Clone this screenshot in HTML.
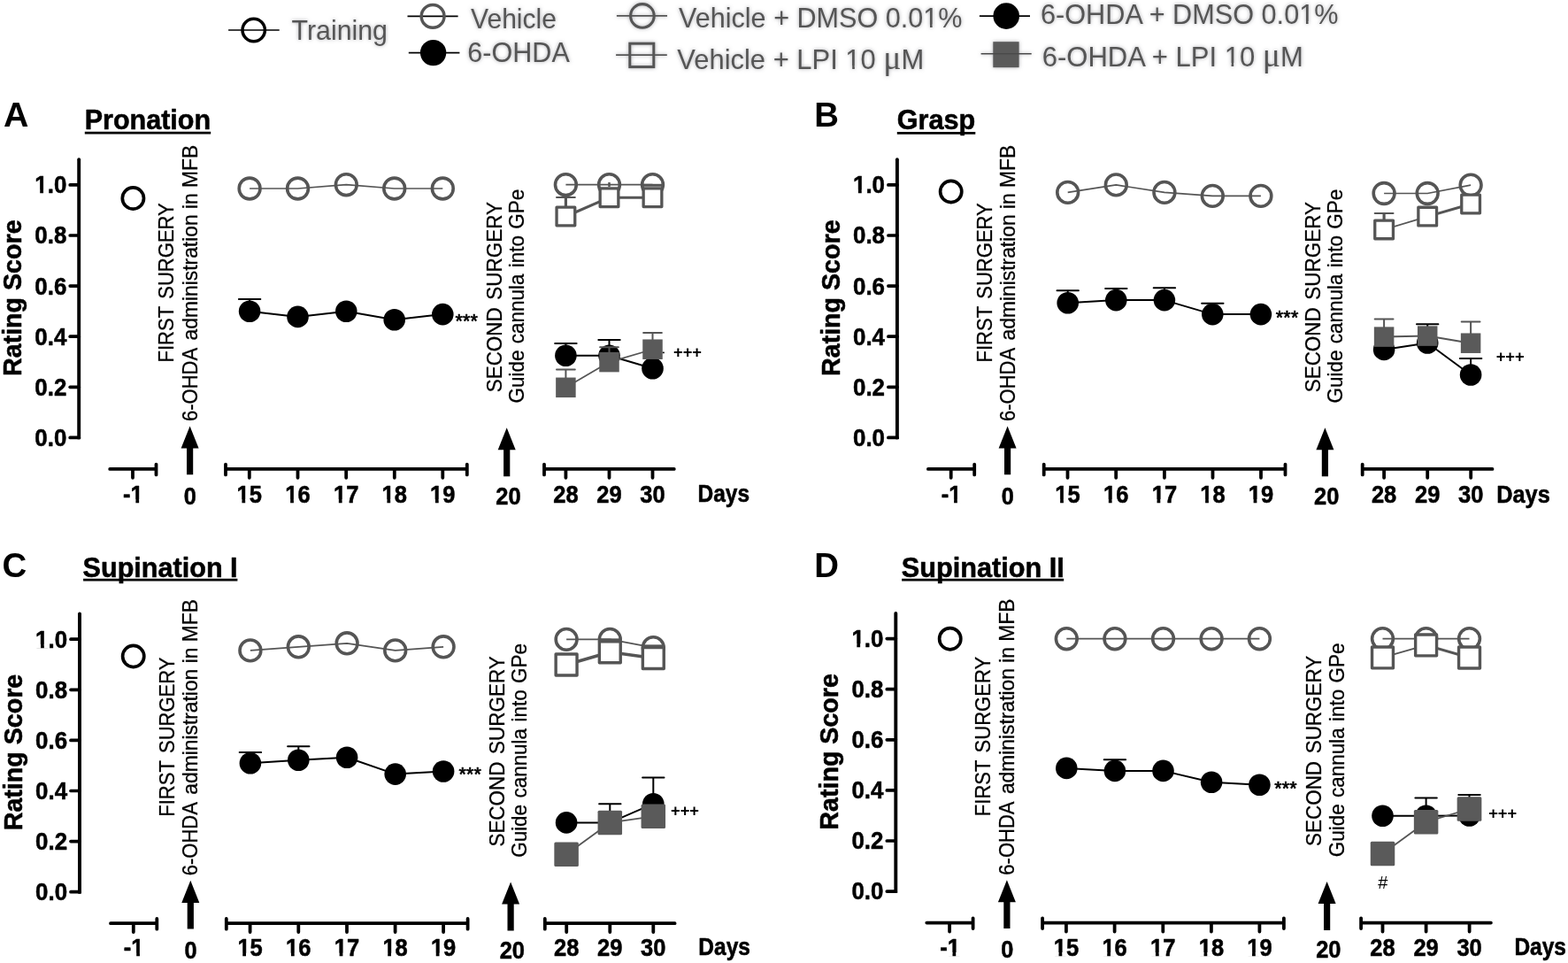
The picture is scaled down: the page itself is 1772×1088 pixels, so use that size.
<!DOCTYPE html>
<html lang="en"><head><meta charset="utf-8"><title>Figure</title>
<style>html,body{margin:0;padding:0;background:#fff}body{width:1772px;height:1088px;overflow:hidden}svg{display:block}text{font-family:"Liberation Sans", sans-serif;fill:#000}.hb{stroke:#000;stroke-width:0.55px;stroke-linejoin:round}.hr{stroke:#000;stroke-width:0.3px;stroke-linejoin:round}</style>
</head><body>
<svg width="1772" height="1088" viewBox="0 0 1772 1088">
<defs><filter id="glow" x="-10%" y="-30%" width="120%" height="160%"><feGaussianBlur in="SourceAlpha" stdDeviation="2.3" result="b"/><feFlood flood-color="#85858c" flood-opacity="0.7"/><feComposite in2="b" operator="in" result="s"/><feMerge><feMergeNode in="s"/><feMergeNode in="SourceGraphic"/></feMerge></filter></defs>
<rect width="1772" height="1088" fill="#fff"/>
<g id="legend">
<path d="M258.1 34H315.7" stroke="#000" stroke-width="1.6"/>
<circle cx="286.7" cy="34" r="12.7" fill="none" stroke="#000" stroke-width="3.5"/>
<path d="M460.5 18.4H517.6" stroke="#000" stroke-width="1.6"/>
<circle cx="489.1" cy="18.4" r="12.9" fill="none" stroke="#555555" stroke-width="3.5"/>
<path d="M461.8 59.6H519.4" stroke="#000" stroke-width="1.6"/>
<circle cx="489.6" cy="59.6" r="14.7" fill="#000"/>
<g filter="url(#glow)">
<path d="M696.9 17.9H754" stroke="#555555" stroke-width="1.6"/>
<circle cx="725.9" cy="17.9" r="13.3" fill="none" stroke="#555555" stroke-width="3.1"/>
<path d="M696.1 62.1H753.8" stroke="#555555" stroke-width="1.6"/>
<rect x="711.8" y="49.2" width="27" height="26.4" fill="none" stroke="#555555" stroke-width="3"/>
</g>
<path d="M1106.9 18.1H1164" stroke="#000" stroke-width="1.6"/>
<circle cx="1137.2" cy="18.1" r="14.8" fill="#000"/>
<g filter="url(#glow)">
<rect x="1122.3" y="47.2" width="29.3" height="29" fill="#5a5a5a"/>
<path d="M1108.6 60.8H1165.7" stroke="#4a4a4a" stroke-width="1.6"/>
</g>
<g filter="url(#glow)" font-size="30.5" style="fill:#555555">
<text x="329.5" y="45.4" style="fill:#555555" textLength="108.5" lengthAdjust="spacingAndGlyphs">Training</text>
<text x="532" y="31.8" style="fill:#555555" textLength="97" lengthAdjust="spacingAndGlyphs">Vehicle</text>
<text x="528.3" y="70" style="fill:#555555" textLength="115.5" lengthAdjust="spacingAndGlyphs">6-OHDA</text>
<clipPath id="lc1"><path clip-rule="evenodd" d="M757 -9.2H1097.5V50.8H757ZM1044.60 27.42H1051.01V31.80H1044.60ZM1053.62 27.42H1059.80V31.80H1053.62Z"/></clipPath>
<text x="767" y="30.8" style="fill:#555555" clip-path="url(#lc1)" textLength="320.5" lengthAdjust="spacingAndGlyphs">Vehicle + DMSO 0.01%</text>
<clipPath id="lc2"><path clip-rule="evenodd" d="M755.3 37.5H1054.3V97.5H755.3ZM956.72 74.12H963.20V78.50H956.72ZM965.83 74.12H972.07V78.50H965.83Z"/></clipPath>
<text x="765.3" y="77.5" style="fill:#555555" clip-path="url(#lc2)" textLength="279" lengthAdjust="spacingAndGlyphs">Vehicle + LPI 10 <tspan style="font-family:'Liberation Serif',serif;font-size:37px">μ</tspan>M</text>
<clipPath id="lc3"><path clip-rule="evenodd" d="M1166 -12.7H1522.5V47.3H1166ZM1469.52 23.92H1475.94V28.30H1469.52ZM1478.55 23.92H1484.74V28.30H1478.55Z"/></clipPath>
<text x="1176" y="27.3" style="fill:#555555" clip-path="url(#lc3)" textLength="336.5" lengthAdjust="spacingAndGlyphs">6-OHDA + DMSO 0.01%</text>
<clipPath id="lc4"><path clip-rule="evenodd" d="M1167.8 34.5H1482.8V94.5H1167.8ZM1385.05 71.12H1391.54V75.50H1385.05ZM1394.19 71.12H1400.44V75.50H1394.19Z"/></clipPath>
<text x="1177.8" y="74.5" style="fill:#555555" clip-path="url(#lc4)" textLength="295" lengthAdjust="spacingAndGlyphs">6-OHDA + LPI 10 <tspan style="font-family:'Liberation Serif',serif;font-size:37px">μ</tspan>M</text>
</g></g>
<g transform="translate(0,0)">
<path d="M89.2 180.2V494.4" stroke="#000" stroke-width="3.9" stroke-linecap="round" fill="none"/>
<path d="M89.2 494.4V496.2" stroke="#000" stroke-width="3.9" fill="none"/>
<path d="M79.2 494.4H89.2" stroke="#000" stroke-width="3.7" stroke-linecap="round" fill="none"/>
<text class="hb" x="39.3" y="503.8" font-size="28.2" font-weight="bold" textLength="36.0" lengthAdjust="spacingAndGlyphs">0.0</text>
<path d="M79.2 437.3H89.2" stroke="#000" stroke-width="3.7" stroke-linecap="round" fill="none"/>
<text class="hb" x="39.3" y="446.7" font-size="28.2" font-weight="bold" textLength="36.0" lengthAdjust="spacingAndGlyphs">0.2</text>
<path d="M79.2 380.2H89.2" stroke="#000" stroke-width="3.7" stroke-linecap="round" fill="none"/>
<text class="hb" x="39.3" y="389.6" font-size="28.2" font-weight="bold" textLength="36.0" lengthAdjust="spacingAndGlyphs">0.4</text>
<path d="M79.2 323.1H89.2" stroke="#000" stroke-width="3.7" stroke-linecap="round" fill="none"/>
<text class="hb" x="39.3" y="332.5" font-size="28.2" font-weight="bold" textLength="36.0" lengthAdjust="spacingAndGlyphs">0.6</text>
<path d="M79.2 266.0H89.2" stroke="#000" stroke-width="3.7" stroke-linecap="round" fill="none"/>
<text class="hb" x="39.3" y="275.4" font-size="28.2" font-weight="bold" textLength="36.0" lengthAdjust="spacingAndGlyphs">0.8</text>
<path d="M79.2 208.9H89.2" stroke="#000" stroke-width="3.7" stroke-linecap="round" fill="none"/>
<text class="hb" x="39.3" y="218.3" font-size="28.2" font-weight="bold" textLength="36.0" lengthAdjust="spacingAndGlyphs">1.0</text>
<rect x="39.36" y="214.55" width="5.86" height="4.73" fill="#fff"/>
<rect x="49.02" y="214.55" width="5.03" height="4.73" fill="#fff"/>
<text transform="translate(24.1,336.7) rotate(-90)" class="hb" font-size="29.4" font-weight="bold" text-anchor="middle" textLength="176.5" lengthAdjust="spacingAndGlyphs">Rating Score</text>
<path d="M124.2 529.9H176.5M176.5 524.6V536.4M150 529.9V539.8" stroke="#000" stroke-width="3.8" stroke-linecap="round" fill="none"/>
<path d="M255 529.9H527.8M255 524.6V536.4M527.8 524.6V536.4M281.8 529.9V539.8M336.5 529.9V539.8M391.2 529.9V539.8M445.8 529.9V539.8M500.3 529.9V539.8" stroke="#000" stroke-width="3.8" stroke-linecap="round" fill="none"/>
<path d="M615 529.9H761.8M615 524.6V536.4M639.4 529.9V539.8M688.5 529.9V539.8M737.5 529.9V539.8" stroke="#000" stroke-width="3.8" stroke-linecap="round" fill="none"/>
<text x="139.05" y="568" class="hb" font-size="28.2" font-weight="bold" textLength="22.7" lengthAdjust="spacingAndGlyphs">-1</text>
<rect x="147.59" y="564.25" width="5.80" height="4.73" fill="#fff"/>
<rect x="157.14" y="564.25" width="4.98" height="4.73" fill="#fff"/>
<text x="267.60" y="568" class="hb" font-size="28.2" font-weight="bold" textLength="28.4" lengthAdjust="spacingAndGlyphs">15</text>
<rect x="267.63" y="564.25" width="5.80" height="4.73" fill="#fff"/>
<rect x="277.19" y="564.25" width="4.98" height="4.73" fill="#fff"/>
<text x="322.30" y="568" class="hb" font-size="28.2" font-weight="bold" textLength="28.4" lengthAdjust="spacingAndGlyphs">16</text>
<rect x="322.33" y="564.25" width="5.80" height="4.73" fill="#fff"/>
<rect x="331.89" y="564.25" width="4.98" height="4.73" fill="#fff"/>
<text x="377.00" y="568" class="hb" font-size="28.2" font-weight="bold" textLength="28.4" lengthAdjust="spacingAndGlyphs">17</text>
<rect x="377.03" y="564.25" width="5.80" height="4.73" fill="#fff"/>
<rect x="386.59" y="564.25" width="4.98" height="4.73" fill="#fff"/>
<text x="431.60" y="568" class="hb" font-size="28.2" font-weight="bold" textLength="28.4" lengthAdjust="spacingAndGlyphs">18</text>
<rect x="431.63" y="564.25" width="5.80" height="4.73" fill="#fff"/>
<rect x="441.19" y="564.25" width="4.98" height="4.73" fill="#fff"/>
<text x="486.10" y="568" class="hb" font-size="28.2" font-weight="bold" textLength="28.4" lengthAdjust="spacingAndGlyphs">19</text>
<rect x="486.13" y="564.25" width="5.80" height="4.73" fill="#fff"/>
<rect x="495.69" y="564.25" width="4.98" height="4.73" fill="#fff"/>
<text x="625.20" y="568" class="hb" font-size="28.2" font-weight="bold" textLength="28.4" lengthAdjust="spacingAndGlyphs">28</text>
<text x="674.30" y="568" class="hb" font-size="28.2" font-weight="bold" textLength="28.4" lengthAdjust="spacingAndGlyphs">29</text>
<text x="723.30" y="568" class="hb" font-size="28.2" font-weight="bold" textLength="28.4" lengthAdjust="spacingAndGlyphs">30</text>
<path d="M214.6 481.5L224.6 506.6H218.2V536.2H211.0V506.6H204.6Z" fill="#000"/>
<path d="M572.7 483.2L582.7 508.2H576.3000000000001V538.2H569.1V508.2H562.7Z" fill="#000"/>
<text x="207.87" y="570.2" class="hb" font-size="28.2" font-weight="bold" textLength="14.1" lengthAdjust="spacingAndGlyphs">0</text>
<text x="560.25" y="570.2" class="hb" font-size="28.2" font-weight="bold" textLength="28.4" lengthAdjust="spacingAndGlyphs">20</text>
<text x="788.5" y="567.3" class="hb" font-size="27" font-weight="bold" textLength="58.6" lengthAdjust="spacingAndGlyphs">Days</text>
<text class="hr" transform="translate(196.2,409.5) rotate(-90)" font-size="23.2" word-spacing="2.5" textLength="180.3" lengthAdjust="spacingAndGlyphs">FIRST SURGERY</text>
<text class="hr" transform="translate(222.5,476) rotate(-90)" font-size="23.2" textLength="83.2" lengthAdjust="spacingAndGlyphs">6-OHDA</text>
<text class="hr" transform="translate(222.5,384.4) rotate(-90)" font-size="23.2" textLength="220.6" lengthAdjust="spacingAndGlyphs">administration in MFB</text>
<text class="hr" transform="translate(566.8,443.3) rotate(-90)" font-size="23.7" word-spacing="2.5" textLength="215.3" lengthAdjust="spacingAndGlyphs">SECOND SURGERY</text>
<text class="hr" transform="translate(592.3,455.5) rotate(-90)" font-size="23.7" word-spacing="1.2" textLength="241.7" lengthAdjust="spacingAndGlyphs">Guide cannula into GPe</text>
</g>
<g transform="translate(924.7,0)">
<path d="M89.2 180.2V494.4" stroke="#000" stroke-width="3.9" stroke-linecap="round" fill="none"/>
<path d="M89.2 494.4V496.2" stroke="#000" stroke-width="3.9" fill="none"/>
<path d="M79.2 494.4H89.2" stroke="#000" stroke-width="3.7" stroke-linecap="round" fill="none"/>
<text class="hb" x="39.3" y="503.8" font-size="28.2" font-weight="bold" textLength="36.0" lengthAdjust="spacingAndGlyphs">0.0</text>
<path d="M79.2 437.3H89.2" stroke="#000" stroke-width="3.7" stroke-linecap="round" fill="none"/>
<text class="hb" x="39.3" y="446.7" font-size="28.2" font-weight="bold" textLength="36.0" lengthAdjust="spacingAndGlyphs">0.2</text>
<path d="M79.2 380.2H89.2" stroke="#000" stroke-width="3.7" stroke-linecap="round" fill="none"/>
<text class="hb" x="39.3" y="389.6" font-size="28.2" font-weight="bold" textLength="36.0" lengthAdjust="spacingAndGlyphs">0.4</text>
<path d="M79.2 323.1H89.2" stroke="#000" stroke-width="3.7" stroke-linecap="round" fill="none"/>
<text class="hb" x="39.3" y="332.5" font-size="28.2" font-weight="bold" textLength="36.0" lengthAdjust="spacingAndGlyphs">0.6</text>
<path d="M79.2 266.0H89.2" stroke="#000" stroke-width="3.7" stroke-linecap="round" fill="none"/>
<text class="hb" x="39.3" y="275.4" font-size="28.2" font-weight="bold" textLength="36.0" lengthAdjust="spacingAndGlyphs">0.8</text>
<path d="M79.2 208.9H89.2" stroke="#000" stroke-width="3.7" stroke-linecap="round" fill="none"/>
<text class="hb" x="39.3" y="218.3" font-size="28.2" font-weight="bold" textLength="36.0" lengthAdjust="spacingAndGlyphs">1.0</text>
<rect x="39.36" y="214.55" width="5.86" height="4.73" fill="#fff"/>
<rect x="49.02" y="214.55" width="5.03" height="4.73" fill="#fff"/>
<text transform="translate(24.1,336.7) rotate(-90)" class="hb" font-size="29.4" font-weight="bold" text-anchor="middle" textLength="176.5" lengthAdjust="spacingAndGlyphs">Rating Score</text>
<path d="M124.2 529.9H176.5M176.5 524.6V536.4M150 529.9V539.8" stroke="#000" stroke-width="3.8" stroke-linecap="round" fill="none"/>
<path d="M255 529.9H527.8M255 524.6V536.4M527.8 524.6V536.4M281.8 529.9V539.8M336.5 529.9V539.8M391.2 529.9V539.8M445.8 529.9V539.8M500.3 529.9V539.8" stroke="#000" stroke-width="3.8" stroke-linecap="round" fill="none"/>
<path d="M615 529.9H761.8M615 524.6V536.4M639.4 529.9V539.8M688.5 529.9V539.8M737.5 529.9V539.8" stroke="#000" stroke-width="3.8" stroke-linecap="round" fill="none"/>
<text x="139.05" y="568" class="hb" font-size="28.2" font-weight="bold" textLength="22.7" lengthAdjust="spacingAndGlyphs">-1</text>
<rect x="147.59" y="564.25" width="5.80" height="4.73" fill="#fff"/>
<rect x="157.14" y="564.25" width="4.98" height="4.73" fill="#fff"/>
<text x="267.60" y="568" class="hb" font-size="28.2" font-weight="bold" textLength="28.4" lengthAdjust="spacingAndGlyphs">15</text>
<rect x="267.63" y="564.25" width="5.80" height="4.73" fill="#fff"/>
<rect x="277.19" y="564.25" width="4.98" height="4.73" fill="#fff"/>
<text x="322.30" y="568" class="hb" font-size="28.2" font-weight="bold" textLength="28.4" lengthAdjust="spacingAndGlyphs">16</text>
<rect x="322.33" y="564.25" width="5.80" height="4.73" fill="#fff"/>
<rect x="331.89" y="564.25" width="4.98" height="4.73" fill="#fff"/>
<text x="377.00" y="568" class="hb" font-size="28.2" font-weight="bold" textLength="28.4" lengthAdjust="spacingAndGlyphs">17</text>
<rect x="377.03" y="564.25" width="5.80" height="4.73" fill="#fff"/>
<rect x="386.59" y="564.25" width="4.98" height="4.73" fill="#fff"/>
<text x="431.60" y="568" class="hb" font-size="28.2" font-weight="bold" textLength="28.4" lengthAdjust="spacingAndGlyphs">18</text>
<rect x="431.63" y="564.25" width="5.80" height="4.73" fill="#fff"/>
<rect x="441.19" y="564.25" width="4.98" height="4.73" fill="#fff"/>
<text x="486.10" y="568" class="hb" font-size="28.2" font-weight="bold" textLength="28.4" lengthAdjust="spacingAndGlyphs">19</text>
<rect x="486.13" y="564.25" width="5.80" height="4.73" fill="#fff"/>
<rect x="495.69" y="564.25" width="4.98" height="4.73" fill="#fff"/>
<text x="625.20" y="568" class="hb" font-size="28.2" font-weight="bold" textLength="28.4" lengthAdjust="spacingAndGlyphs">28</text>
<text x="674.30" y="568" class="hb" font-size="28.2" font-weight="bold" textLength="28.4" lengthAdjust="spacingAndGlyphs">29</text>
<text x="723.30" y="568" class="hb" font-size="28.2" font-weight="bold" textLength="28.4" lengthAdjust="spacingAndGlyphs">30</text>
<path d="M213.9 481.5L223.9 506.6H217.5V536.2H210.3V506.6H203.9Z" fill="#000"/>
<path d="M572.7 483.2L582.7 508.2H576.3000000000001V538.2H569.1V508.2H562.7Z" fill="#000"/>
<text x="207.17" y="570.2" class="hb" font-size="28.2" font-weight="bold" textLength="14.1" lengthAdjust="spacingAndGlyphs">0</text>
<text x="560.25" y="570.2" class="hb" font-size="28.2" font-weight="bold" textLength="28.4" lengthAdjust="spacingAndGlyphs">20</text>
<text x="766.5" y="568" class="hb" font-size="27" font-weight="bold" textLength="60.5" lengthAdjust="spacingAndGlyphs">Days</text>
<text class="hr" transform="translate(196.2,409.5) rotate(-90)" font-size="23.2" word-spacing="2.5" textLength="180.3" lengthAdjust="spacingAndGlyphs">FIRST SURGERY</text>
<text class="hr" transform="translate(222.5,476) rotate(-90)" font-size="23.2" textLength="83.2" lengthAdjust="spacingAndGlyphs">6-OHDA</text>
<text class="hr" transform="translate(222.5,384.4) rotate(-90)" font-size="23.2" textLength="220.6" lengthAdjust="spacingAndGlyphs">administration in MFB</text>
<text class="hr" transform="translate(566.8,443.3) rotate(-90)" font-size="23.7" word-spacing="2.5" textLength="215.3" lengthAdjust="spacingAndGlyphs">SECOND SURGERY</text>
<text class="hr" transform="translate(592.3,455.5) rotate(-90)" font-size="23.7" word-spacing="1.2" textLength="241.7" lengthAdjust="spacingAndGlyphs">Guide cannula into GPe</text>
</g>
<g transform="translate(0.8,513.3)">
<path d="M89.2 180.2V494.4" stroke="#000" stroke-width="3.9" stroke-linecap="round" fill="none"/>
<path d="M89.2 494.4V496.2" stroke="#000" stroke-width="3.9" fill="none"/>
<path d="M79.2 494.4H89.2" stroke="#000" stroke-width="3.7" stroke-linecap="round" fill="none"/>
<text class="hb" x="39.3" y="503.8" font-size="28.2" font-weight="bold" textLength="36.0" lengthAdjust="spacingAndGlyphs">0.0</text>
<path d="M79.2 437.3H89.2" stroke="#000" stroke-width="3.7" stroke-linecap="round" fill="none"/>
<text class="hb" x="39.3" y="446.7" font-size="28.2" font-weight="bold" textLength="36.0" lengthAdjust="spacingAndGlyphs">0.2</text>
<path d="M79.2 380.2H89.2" stroke="#000" stroke-width="3.7" stroke-linecap="round" fill="none"/>
<text class="hb" x="39.3" y="389.6" font-size="28.2" font-weight="bold" textLength="36.0" lengthAdjust="spacingAndGlyphs">0.4</text>
<path d="M79.2 323.1H89.2" stroke="#000" stroke-width="3.7" stroke-linecap="round" fill="none"/>
<text class="hb" x="39.3" y="332.5" font-size="28.2" font-weight="bold" textLength="36.0" lengthAdjust="spacingAndGlyphs">0.6</text>
<path d="M79.2 266.0H89.2" stroke="#000" stroke-width="3.7" stroke-linecap="round" fill="none"/>
<text class="hb" x="39.3" y="275.4" font-size="28.2" font-weight="bold" textLength="36.0" lengthAdjust="spacingAndGlyphs">0.8</text>
<path d="M79.2 208.9H89.2" stroke="#000" stroke-width="3.7" stroke-linecap="round" fill="none"/>
<text class="hb" x="39.3" y="218.3" font-size="28.2" font-weight="bold" textLength="36.0" lengthAdjust="spacingAndGlyphs">1.0</text>
<rect x="39.36" y="214.55" width="5.86" height="4.73" fill="#fff"/>
<rect x="49.02" y="214.55" width="5.03" height="4.73" fill="#fff"/>
<text transform="translate(24.1,336.7) rotate(-90)" class="hb" font-size="29.4" font-weight="bold" text-anchor="middle" textLength="176.5" lengthAdjust="spacingAndGlyphs">Rating Score</text>
<path d="M124.2 529.9H176.5M176.5 524.6V536.4M150 529.9V539.8" stroke="#000" stroke-width="3.8" stroke-linecap="round" fill="none"/>
<path d="M255 529.9H527.8M255 524.6V536.4M527.8 524.6V536.4M281.8 529.9V539.8M336.5 529.9V539.8M391.2 529.9V539.8M445.8 529.9V539.8M500.3 529.9V539.8" stroke="#000" stroke-width="3.8" stroke-linecap="round" fill="none"/>
<path d="M615 529.9H761.8M615 524.6V536.4M639.4 529.9V539.8M688.5 529.9V539.8M737.5 529.9V539.8" stroke="#000" stroke-width="3.8" stroke-linecap="round" fill="none"/>
<text x="139.05" y="567.2" class="hb" font-size="28.2" font-weight="bold" textLength="22.7" lengthAdjust="spacingAndGlyphs">-1</text>
<rect x="147.59" y="563.45" width="5.80" height="4.73" fill="#fff"/>
<rect x="157.14" y="563.45" width="4.98" height="4.73" fill="#fff"/>
<text x="267.60" y="567.2" class="hb" font-size="28.2" font-weight="bold" textLength="28.4" lengthAdjust="spacingAndGlyphs">15</text>
<rect x="267.63" y="563.45" width="5.80" height="4.73" fill="#fff"/>
<rect x="277.19" y="563.45" width="4.98" height="4.73" fill="#fff"/>
<text x="322.30" y="567.2" class="hb" font-size="28.2" font-weight="bold" textLength="28.4" lengthAdjust="spacingAndGlyphs">16</text>
<rect x="322.33" y="563.45" width="5.80" height="4.73" fill="#fff"/>
<rect x="331.89" y="563.45" width="4.98" height="4.73" fill="#fff"/>
<text x="377.00" y="567.2" class="hb" font-size="28.2" font-weight="bold" textLength="28.4" lengthAdjust="spacingAndGlyphs">17</text>
<rect x="377.03" y="563.45" width="5.80" height="4.73" fill="#fff"/>
<rect x="386.59" y="563.45" width="4.98" height="4.73" fill="#fff"/>
<text x="431.60" y="567.2" class="hb" font-size="28.2" font-weight="bold" textLength="28.4" lengthAdjust="spacingAndGlyphs">18</text>
<rect x="431.63" y="563.45" width="5.80" height="4.73" fill="#fff"/>
<rect x="441.19" y="563.45" width="4.98" height="4.73" fill="#fff"/>
<text x="486.10" y="567.2" class="hb" font-size="28.2" font-weight="bold" textLength="28.4" lengthAdjust="spacingAndGlyphs">19</text>
<rect x="486.13" y="563.45" width="5.80" height="4.73" fill="#fff"/>
<rect x="495.69" y="563.45" width="4.98" height="4.73" fill="#fff"/>
<text x="625.20" y="567.2" class="hb" font-size="28.2" font-weight="bold" textLength="28.4" lengthAdjust="spacingAndGlyphs">28</text>
<text x="674.30" y="567.2" class="hb" font-size="28.2" font-weight="bold" textLength="28.4" lengthAdjust="spacingAndGlyphs">29</text>
<text x="723.30" y="567.2" class="hb" font-size="28.2" font-weight="bold" textLength="28.4" lengthAdjust="spacingAndGlyphs">30</text>
<path d="M214.5 481.5L224.5 506.6H218.1V536.2H210.9V506.6H204.5Z" fill="#000"/>
<path d="M576.3 483.2L586.3 508.2H579.9V538.2H572.6999999999999V508.2H566.3Z" fill="#000"/>
<text x="207.77" y="569.4000000000001" class="hb" font-size="28.2" font-weight="bold" textLength="14.1" lengthAdjust="spacingAndGlyphs">0</text>
<text x="563.85" y="569.4000000000001" class="hb" font-size="28.2" font-weight="bold" textLength="28.4" lengthAdjust="spacingAndGlyphs">20</text>
<text x="788.5" y="566" class="hb" font-size="27" font-weight="bold" textLength="58.6" lengthAdjust="spacingAndGlyphs">Days</text>
<text class="hr" transform="translate(196.2,409.5) rotate(-90)" font-size="23.2" word-spacing="2.5" textLength="180.3" lengthAdjust="spacingAndGlyphs">FIRST SURGERY</text>
<text class="hr" transform="translate(222.5,476) rotate(-90)" font-size="23.2" textLength="83.2" lengthAdjust="spacingAndGlyphs">6-OHDA</text>
<text class="hr" transform="translate(222.5,384.4) rotate(-90)" font-size="23.2" textLength="220.6" lengthAdjust="spacingAndGlyphs">administration in MFB</text>
<text class="hr" transform="translate(569.0,443.3) rotate(-90)" font-size="23.7" word-spacing="2.5" textLength="215.3" lengthAdjust="spacingAndGlyphs">SECOND SURGERY</text>
<text class="hr" transform="translate(594.5,455.5) rotate(-90)" font-size="23.7" word-spacing="1.2" textLength="241.7" lengthAdjust="spacingAndGlyphs">Guide cannula into GPe</text>
</g>
<g transform="translate(923.1,512.7)">
<path d="M89.2 180.2V494.4" stroke="#000" stroke-width="3.9" stroke-linecap="round" fill="none"/>
<path d="M89.2 494.4V496.2" stroke="#000" stroke-width="3.9" fill="none"/>
<path d="M79.2 494.4H89.2" stroke="#000" stroke-width="3.7" stroke-linecap="round" fill="none"/>
<text class="hb" x="39.3" y="503.8" font-size="28.2" font-weight="bold" textLength="36.0" lengthAdjust="spacingAndGlyphs">0.0</text>
<path d="M79.2 437.3H89.2" stroke="#000" stroke-width="3.7" stroke-linecap="round" fill="none"/>
<text class="hb" x="39.3" y="446.7" font-size="28.2" font-weight="bold" textLength="36.0" lengthAdjust="spacingAndGlyphs">0.2</text>
<path d="M79.2 380.2H89.2" stroke="#000" stroke-width="3.7" stroke-linecap="round" fill="none"/>
<text class="hb" x="39.3" y="389.6" font-size="28.2" font-weight="bold" textLength="36.0" lengthAdjust="spacingAndGlyphs">0.4</text>
<path d="M79.2 323.1H89.2" stroke="#000" stroke-width="3.7" stroke-linecap="round" fill="none"/>
<text class="hb" x="39.3" y="332.5" font-size="28.2" font-weight="bold" textLength="36.0" lengthAdjust="spacingAndGlyphs">0.6</text>
<path d="M79.2 266.0H89.2" stroke="#000" stroke-width="3.7" stroke-linecap="round" fill="none"/>
<text class="hb" x="39.3" y="275.4" font-size="28.2" font-weight="bold" textLength="36.0" lengthAdjust="spacingAndGlyphs">0.8</text>
<path d="M79.2 208.9H89.2" stroke="#000" stroke-width="3.7" stroke-linecap="round" fill="none"/>
<text class="hb" x="39.3" y="218.3" font-size="28.2" font-weight="bold" textLength="36.0" lengthAdjust="spacingAndGlyphs">1.0</text>
<rect x="39.36" y="214.55" width="5.86" height="4.73" fill="#fff"/>
<rect x="49.02" y="214.55" width="5.03" height="4.73" fill="#fff"/>
<text transform="translate(24.1,336.7) rotate(-90)" class="hb" font-size="29.4" font-weight="bold" text-anchor="middle" textLength="176.5" lengthAdjust="spacingAndGlyphs">Rating Score</text>
<path d="M124.2 529.9H176.5M176.5 524.6V536.4M150 529.9V539.8" stroke="#000" stroke-width="3.8" stroke-linecap="round" fill="none"/>
<path d="M255 529.9H527.8M255 524.6V536.4M527.8 524.6V536.4M281.8 529.9V539.8M336.5 529.9V539.8M391.2 529.9V539.8M445.8 529.9V539.8M500.3 529.9V539.8" stroke="#000" stroke-width="3.8" stroke-linecap="round" fill="none"/>
<path d="M615 529.9H761.8M615 524.6V536.4M639.4 529.9V539.8M688.5 529.9V539.8M737.5 529.9V539.8" stroke="#000" stroke-width="3.8" stroke-linecap="round" fill="none"/>
<text x="139.05" y="567.1" class="hb" font-size="28.2" font-weight="bold" textLength="22.7" lengthAdjust="spacingAndGlyphs">-1</text>
<rect x="147.59" y="563.35" width="5.80" height="4.73" fill="#fff"/>
<rect x="157.14" y="563.35" width="4.98" height="4.73" fill="#fff"/>
<text x="267.60" y="567.1" class="hb" font-size="28.2" font-weight="bold" textLength="28.4" lengthAdjust="spacingAndGlyphs">15</text>
<rect x="267.63" y="563.35" width="5.80" height="4.73" fill="#fff"/>
<rect x="277.19" y="563.35" width="4.98" height="4.73" fill="#fff"/>
<text x="322.30" y="567.1" class="hb" font-size="28.2" font-weight="bold" textLength="28.4" lengthAdjust="spacingAndGlyphs">16</text>
<rect x="322.33" y="563.35" width="5.80" height="4.73" fill="#fff"/>
<rect x="331.89" y="563.35" width="4.98" height="4.73" fill="#fff"/>
<text x="377.00" y="567.1" class="hb" font-size="28.2" font-weight="bold" textLength="28.4" lengthAdjust="spacingAndGlyphs">17</text>
<rect x="377.03" y="563.35" width="5.80" height="4.73" fill="#fff"/>
<rect x="386.59" y="563.35" width="4.98" height="4.73" fill="#fff"/>
<text x="431.60" y="567.1" class="hb" font-size="28.2" font-weight="bold" textLength="28.4" lengthAdjust="spacingAndGlyphs">18</text>
<rect x="431.63" y="563.35" width="5.80" height="4.73" fill="#fff"/>
<rect x="441.19" y="563.35" width="4.98" height="4.73" fill="#fff"/>
<text x="486.10" y="567.1" class="hb" font-size="28.2" font-weight="bold" textLength="28.4" lengthAdjust="spacingAndGlyphs">19</text>
<rect x="486.13" y="563.35" width="5.80" height="4.73" fill="#fff"/>
<rect x="495.69" y="563.35" width="4.98" height="4.73" fill="#fff"/>
<text x="625.20" y="567.1" class="hb" font-size="28.2" font-weight="bold" textLength="28.4" lengthAdjust="spacingAndGlyphs">28</text>
<text x="674.30" y="567.1" class="hb" font-size="28.2" font-weight="bold" textLength="28.4" lengthAdjust="spacingAndGlyphs">29</text>
<text x="723.30" y="567.1" class="hb" font-size="28.2" font-weight="bold" textLength="28.4" lengthAdjust="spacingAndGlyphs">30</text>
<path d="M214.8 481.5L224.8 506.6H218.4V536.2H211.20000000000002V506.6H204.8Z" fill="#000"/>
<path d="M576.5 483.2L586.5 508.2H580.1V538.2H572.9V508.2H566.5Z" fill="#000"/>
<text x="208.07" y="569.3000000000001" class="hb" font-size="28.2" font-weight="bold" textLength="14.1" lengthAdjust="spacingAndGlyphs">0</text>
<text x="564.05" y="569.3000000000001" class="hb" font-size="28.2" font-weight="bold" textLength="28.4" lengthAdjust="spacingAndGlyphs">20</text>
<text x="788.3" y="566" class="hb" font-size="27" font-weight="bold" textLength="58.6" lengthAdjust="spacingAndGlyphs">Days</text>
<text class="hr" transform="translate(196.2,409.5) rotate(-90)" font-size="23.2" word-spacing="2.5" textLength="180.3" lengthAdjust="spacingAndGlyphs">FIRST SURGERY</text>
<text class="hr" transform="translate(222.5,476) rotate(-90)" font-size="23.2" textLength="83.2" lengthAdjust="spacingAndGlyphs">6-OHDA</text>
<text class="hr" transform="translate(222.5,384.4) rotate(-90)" font-size="23.2" textLength="220.6" lengthAdjust="spacingAndGlyphs">administration in MFB</text>
<text class="hr" transform="translate(570.3,443.3) rotate(-90)" font-size="23.7" word-spacing="2.5" textLength="215.3" lengthAdjust="spacingAndGlyphs">SECOND SURGERY</text>
<text class="hr" transform="translate(595.8,455.5) rotate(-90)" font-size="23.7" word-spacing="1.2" textLength="241.7" lengthAdjust="spacingAndGlyphs">Guide cannula into GPe</text>
</g>
<text x="3.9" y="142.7" font-size="39.3" font-weight="bold">A</text>
<text class="hb" x="95.7" y="145.7" font-size="31.2" font-weight="bold" textLength="142.4" lengthAdjust="spacingAndGlyphs">Pronation</text>
<path d="M95.8 150.1H238.2" stroke="#000" stroke-width="2.7"/>
<text x="920.2" y="142.7" font-size="38.4" font-weight="bold">B</text>
<text class="hb" x="1013.8" y="145.7" font-size="31.2" font-weight="bold" textLength="88.5" lengthAdjust="spacingAndGlyphs">Grasp</text>
<path d="M1013.8 150.3H1102.3" stroke="#000" stroke-width="2.7"/>
<text x="2.6" y="651.8" font-size="38.4" font-weight="bold">C</text>
<text class="hb" x="93.6" y="652" font-size="31.2" font-weight="bold" textLength="175" lengthAdjust="spacingAndGlyphs">Supination I</text>
<path d="M94.1 655.1H268.4" stroke="#000" stroke-width="2.7"/>
<text x="920.3" y="651.8" font-size="38.4" font-weight="bold">D</text>
<text class="hb" x="1018.8" y="652.2" font-size="31.2" font-weight="bold" textLength="184" lengthAdjust="spacingAndGlyphs">Supination II</text>
<path d="M1019.1 655.1H1202.2" stroke="#000" stroke-width="2.7"/>
<circle cx="150.4" cy="224" r="12.1" fill="none" stroke="#000" stroke-width="3.7"/>
<path d="M282.1 213L336.5 213L391.3 208.7L445.7 213L500.3 213" stroke="#555555" stroke-width="1.7" fill="none" stroke-linejoin="round"/>
<circle cx="282.1" cy="213" r="11.9" fill="none" stroke="#555555" stroke-width="3.6"/>
<circle cx="336.5" cy="213" r="11.9" fill="none" stroke="#555555" stroke-width="3.6"/>
<circle cx="391.3" cy="208.7" r="11.9" fill="none" stroke="#555555" stroke-width="3.6"/>
<circle cx="445.7" cy="213" r="11.9" fill="none" stroke="#555555" stroke-width="3.6"/>
<circle cx="500.3" cy="213" r="11.9" fill="none" stroke="#555555" stroke-width="3.6"/>
<path d="M282.1 351.8L336.5 357.9L391.3 351.8L445.7 361.3L500.3 355.1" stroke="#000" stroke-width="2" fill="none" stroke-linejoin="round"/>
<path d="M269.90000000000003 338H294.3" stroke="#000" stroke-width="2" stroke-linecap="round" fill="none"/>
<path d="M282.1 338V351.8" stroke="#000" stroke-width="2" fill="none"/>
<circle cx="282.1" cy="351.8" r="12.3" fill="#000"/>
<circle cx="336.5" cy="357.9" r="12.3" fill="#000"/>
<circle cx="391.3" cy="351.8" r="12.3" fill="#000"/>
<circle cx="445.7" cy="361.3" r="12.3" fill="#000"/>
<circle cx="500.3" cy="355.1" r="12.3" fill="#000"/>
<text x="514.4" y="370.1" font-size="21.5" stroke="#000" stroke-width="0.7" stroke-linejoin="round" letter-spacing="0.2">***</text>
<circle cx="1074.7" cy="216.5" r="12.1" fill="none" stroke="#000" stroke-width="3.7"/>
<path d="M1206.7 217.4L1261.3 208.9L1315.9 217.4L1370.3 221.4L1424.9 221.4" stroke="#555555" stroke-width="1.7" fill="none" stroke-linejoin="round"/>
<circle cx="1206.7" cy="217.4" r="11.9" fill="none" stroke="#555555" stroke-width="3.6"/>
<circle cx="1261.3" cy="208.9" r="11.9" fill="none" stroke="#555555" stroke-width="3.6"/>
<circle cx="1315.9" cy="217.4" r="11.9" fill="none" stroke="#555555" stroke-width="3.6"/>
<circle cx="1370.3" cy="221.4" r="11.9" fill="none" stroke="#555555" stroke-width="3.6"/>
<circle cx="1424.9" cy="221.4" r="11.9" fill="none" stroke="#555555" stroke-width="3.6"/>
<path d="M1206.7 342.3L1261.3 339.1L1315.9 339.1L1370.3 355.1L1424.9 355.1" stroke="#000" stroke-width="2" fill="none" stroke-linejoin="round"/>
<path d="M1194.5 328.2H1218.9" stroke="#000" stroke-width="2" stroke-linecap="round" fill="none"/>
<path d="M1206.7 328.2V342.3" stroke="#000" stroke-width="2" fill="none"/>
<circle cx="1206.7" cy="342.3" r="12.3" fill="#000"/>
<path d="M1249.1 326H1273.5" stroke="#000" stroke-width="2" stroke-linecap="round" fill="none"/>
<path d="M1261.3 326V339.1" stroke="#000" stroke-width="2" fill="none"/>
<circle cx="1261.3" cy="339.1" r="12.3" fill="#000"/>
<path d="M1303.7 325.3H1328.1000000000001" stroke="#000" stroke-width="2" stroke-linecap="round" fill="none"/>
<path d="M1315.9 325.3V339.1" stroke="#000" stroke-width="2" fill="none"/>
<circle cx="1315.9" cy="339.1" r="12.3" fill="#000"/>
<path d="M1358.1 342.7H1382.5" stroke="#000" stroke-width="2" stroke-linecap="round" fill="none"/>
<path d="M1370.3 342.7V355.1" stroke="#000" stroke-width="2" fill="none"/>
<circle cx="1370.3" cy="355.1" r="12.3" fill="#000"/>
<circle cx="1424.9" cy="355.1" r="12.3" fill="#000"/>
<text x="1441.8" y="365.7" font-size="21.5" stroke="#000" stroke-width="0.7" stroke-linejoin="round" letter-spacing="0.2">***</text>
<circle cx="150.7" cy="741.5" r="12.1" fill="none" stroke="#000" stroke-width="3.7"/>
<path d="M282.9 734.9L337.3 730.8L392.1 726.8L446.7 734.9L501.1 730.8" stroke="#555555" stroke-width="1.7" fill="none" stroke-linejoin="round"/>
<circle cx="282.9" cy="734.9" r="11.9" fill="none" stroke="#555555" stroke-width="3.6"/>
<circle cx="337.3" cy="730.8" r="11.9" fill="none" stroke="#555555" stroke-width="3.6"/>
<circle cx="392.1" cy="726.8" r="11.9" fill="none" stroke="#555555" stroke-width="3.6"/>
<circle cx="446.7" cy="734.9" r="11.9" fill="none" stroke="#555555" stroke-width="3.6"/>
<circle cx="501.1" cy="730.8" r="11.9" fill="none" stroke="#555555" stroke-width="3.6"/>
<path d="M282.9 862.2L337.3 858.8L392.1 855.8L446.7 874.6L501.1 871.5" stroke="#000" stroke-width="2" fill="none" stroke-linejoin="round"/>
<path d="M270.7 849.9H295.09999999999997" stroke="#000" stroke-width="2" stroke-linecap="round" fill="none"/>
<path d="M282.9 849.9V862.2" stroke="#000" stroke-width="2" fill="none"/>
<circle cx="282.9" cy="862.2" r="12.3" fill="#000"/>
<path d="M325.1 843.2H349.5" stroke="#000" stroke-width="2" stroke-linecap="round" fill="none"/>
<path d="M337.3 843.2V858.8" stroke="#000" stroke-width="2" fill="none"/>
<circle cx="337.3" cy="858.8" r="12.3" fill="#000"/>
<circle cx="392.1" cy="855.8" r="12.3" fill="#000"/>
<circle cx="446.7" cy="874.6" r="12.3" fill="#000"/>
<circle cx="501.1" cy="871.5" r="12.3" fill="#000"/>
<text x="518.4" y="882.4" font-size="21.5" stroke="#000" stroke-width="0.7" stroke-linejoin="round" letter-spacing="0.2">***</text>
<circle cx="1073.7" cy="721.7" r="12.1" fill="none" stroke="#000" stroke-width="3.7"/>
<path d="M1205.3 721.7L1259.9 721.7L1314.5 721.7L1369.1 721.7L1423.4 721.7" stroke="#555555" stroke-width="1.7" fill="none" stroke-linejoin="round"/>
<circle cx="1205.3" cy="721.7" r="11.9" fill="none" stroke="#555555" stroke-width="3.6"/>
<circle cx="1259.9" cy="721.7" r="11.9" fill="none" stroke="#555555" stroke-width="3.6"/>
<circle cx="1314.5" cy="721.7" r="11.9" fill="none" stroke="#555555" stroke-width="3.6"/>
<circle cx="1369.1" cy="721.7" r="11.9" fill="none" stroke="#555555" stroke-width="3.6"/>
<circle cx="1423.4" cy="721.7" r="11.9" fill="none" stroke="#555555" stroke-width="3.6"/>
<path d="M1205.3 867.9L1259.9 870.9L1314.5 870.9L1369.1 883.7L1423.4 886.7" stroke="#000" stroke-width="2" fill="none" stroke-linejoin="round"/>
<circle cx="1205.3" cy="867.9" r="12.3" fill="#000"/>
<path d="M1247.7 858.2H1272.1000000000001" stroke="#000" stroke-width="2" stroke-linecap="round" fill="none"/>
<path d="M1259.9 858.2V870.9" stroke="#000" stroke-width="2" fill="none"/>
<circle cx="1259.9" cy="870.9" r="12.3" fill="#000"/>
<circle cx="1314.5" cy="870.9" r="12.3" fill="#000"/>
<circle cx="1369.1" cy="883.7" r="12.3" fill="#000"/>
<circle cx="1423.4" cy="886.7" r="12.3" fill="#000"/>
<text x="1440.2" y="898" font-size="21.5" stroke="#000" stroke-width="0.7" stroke-linejoin="round" letter-spacing="0.2">***</text>
<path d="M639.4 208.7L737.5 208.7" stroke="#555555" stroke-width="1.7" fill="none" stroke-linejoin="round"/>
<circle cx="639.4" cy="208.7" r="11.9" fill="none" stroke="#555555" stroke-width="3.6"/>
<circle cx="688.5" cy="208.7" r="11.9" fill="none" stroke="#555555" stroke-width="3.6"/>
<circle cx="737.5" cy="208.7" r="11.9" fill="none" stroke="#555555" stroke-width="3.6"/>
<path d="M639.4 244.5L688.5 223.2L737.5 223.2" stroke="#555555" stroke-width="3" fill="none" stroke-linejoin="round"/>
<path d="M629.0 223.1H649.8" stroke="#555555" stroke-width="2" stroke-linecap="round" fill="none"/>
<path d="M639.4 223.1V234" stroke="#555555" stroke-width="3.2" fill="none"/>
<rect x="629.05" y="234.15" width="20.70" height="20.70" fill="#fff" stroke="#555555" stroke-width="3.3" stroke-linejoin="round"/>
<rect x="678.15" y="212.85" width="20.70" height="20.70" fill="#fff" stroke="#555555" stroke-width="3.3" stroke-linejoin="round"/>
<rect x="727.15" y="212.85" width="20.70" height="20.70" fill="#fff" stroke="#555555" stroke-width="3.3" stroke-linejoin="round"/>
<path d="M688.5 206V211" stroke="#555555" stroke-width="2.5"/>
<path d="M727.0 209.3H748.0" stroke="#555555" stroke-width="3"/>
<path d="M639.4 401.8L688.5 401.8L737.5 416.2" stroke="#000" stroke-width="2" fill="none" stroke-linejoin="round"/>
<path d="M627.1999999999999 388.1H651.6" stroke="#000" stroke-width="2" stroke-linecap="round" fill="none"/>
<path d="M639.4 388.1V401" stroke="#000" stroke-width="2" fill="none"/>
<path d="M676.3 384H700.7" stroke="#000" stroke-width="2" stroke-linecap="round" fill="none"/>
<path d="M688.5 384V401" stroke="#000" stroke-width="2" fill="none"/>
<circle cx="639.4" cy="401.8" r="12.3" fill="#000"/>
<circle cx="688.5" cy="401.8" r="12.3" fill="#000"/>
<circle cx="737.5" cy="416.2" r="12.3" fill="#000"/>
<path d="M639.4 437.8L688.5 409.1L737.5 394.7" stroke="#555555" stroke-width="1.7" fill="none" stroke-linejoin="round"/>
<path d="M629.0 417.5H649.8" stroke="#555555" stroke-width="2" stroke-linecap="round" fill="none"/>
<path d="M639.4 417.5V430" stroke="#555555" stroke-width="2" fill="none"/>
<path d="M678.1 392.2H698.9" stroke="#555555" stroke-width="2" stroke-linecap="round" fill="none"/>
<path d="M688.5 392.2V400" stroke="#555555" stroke-width="2" fill="none"/>
<path d="M727.1 376H747.9" stroke="#555555" stroke-width="2" stroke-linecap="round" fill="none"/>
<path d="M737.5 376V386" stroke="#555555" stroke-width="2" fill="none"/>
<rect x="628.15" y="426.55" width="22.5" height="22.5" rx="0" fill="#5a5a5a"/>
<rect x="677.25" y="397.85" width="22.5" height="22.5" rx="0" fill="#5a5a5a"/>
<rect x="726.25" y="383.45" width="22.5" height="22.5" rx="0" fill="#5a5a5a"/>
<path d="M748.8 398.4H750.8" stroke="#000" stroke-width="1.6"/>
<text x="761" y="404" font-size="18.3" font-weight="bold">+++</text>
<path d="M1564.1 218.5L1613.2 218.5L1662.1 209.1" stroke="#555555" stroke-width="1.7" fill="none" stroke-linejoin="round"/>
<circle cx="1564.1" cy="218.5" r="11.9" fill="none" stroke="#555555" stroke-width="3.6"/>
<circle cx="1613.2" cy="218.5" r="11.9" fill="none" stroke="#555555" stroke-width="3.6"/>
<circle cx="1662.1" cy="209.1" r="11.9" fill="none" stroke="#555555" stroke-width="3.6"/>
<path d="M1564.1 259.4L1613.2 244.6" stroke="#555555" stroke-width="1.7" fill="none" stroke-linejoin="round"/>
<path d="M1613.2 244.6L1662.1 230.5" stroke="#555555" stroke-width="3" fill="none" stroke-linejoin="round"/>
<path d="M1553.6999999999998 241H1574.5" stroke="#555555" stroke-width="2" stroke-linecap="round" fill="none"/>
<path d="M1564.1 241V250" stroke="#555555" stroke-width="3.2" fill="none"/>
<rect x="1553.75" y="249.05" width="20.70" height="20.70" fill="#fff" stroke="#555555" stroke-width="3.3" stroke-linejoin="round"/>
<rect x="1602.85" y="234.25" width="20.70" height="20.70" fill="#fff" stroke="#555555" stroke-width="3.3" stroke-linejoin="round"/>
<rect x="1651.75" y="220.15" width="20.70" height="20.70" fill="#fff" stroke="#555555" stroke-width="3.3" stroke-linejoin="round"/>
<path d="M1564.1 394.9L1613.2 387.5L1662.1 423.5" stroke="#000" stroke-width="2" fill="none" stroke-linejoin="round"/>
<path d="M1601.0 366.3H1625.4" stroke="#000" stroke-width="2" stroke-linecap="round" fill="none"/>
<path d="M1613.2 366.3V380" stroke="#000" stroke-width="2" fill="none"/>
<path d="M1649.8999999999999 405.1H1674.3" stroke="#000" stroke-width="2" stroke-linecap="round" fill="none"/>
<path d="M1662.1 405.1V420" stroke="#000" stroke-width="2" fill="none"/>
<circle cx="1564.1" cy="394.9" r="12.3" fill="#000"/>
<circle cx="1613.2" cy="387.5" r="12.3" fill="#000"/>
<circle cx="1662.1" cy="423.5" r="12.3" fill="#000"/>
<path d="M1564.1 380.6L1613.2 379.6L1662.1 387.7" stroke="#555555" stroke-width="2" fill="none" stroke-linejoin="round"/>
<path d="M1553.6999999999998 360.4H1574.5" stroke="#555555" stroke-width="2" stroke-linecap="round" fill="none"/>
<path d="M1564.1 360.4V372" stroke="#555555" stroke-width="2" fill="none"/>
<path d="M1651.6999999999998 363.4H1672.5" stroke="#555555" stroke-width="2" stroke-linecap="round" fill="none"/>
<path d="M1662.1 363.4V380" stroke="#555555" stroke-width="2" fill="none"/>
<rect x="1552.85" y="369.35" width="22.5" height="22.5" rx="0" fill="#5a5a5a"/>
<rect x="1601.95" y="368.35" width="22.5" height="22.5" rx="0" fill="#5a5a5a"/>
<rect x="1650.85" y="376.45" width="22.5" height="22.5" rx="0" fill="#5a5a5a"/>
<text x="1690.7" y="409.2" font-size="18.3" font-weight="bold">+++</text>
<path d="M640.1 722.4L689.3 722.4L738.3 731.7" stroke="#555555" stroke-width="1.7" fill="none" stroke-linejoin="round"/>
<circle cx="640.1" cy="722.4" r="11.9" fill="none" stroke="#555555" stroke-width="3.6"/>
<circle cx="689.3" cy="722.4" r="11.9" fill="none" stroke="#555555" stroke-width="3.6"/>
<circle cx="738.3" cy="731.7" r="11.9" fill="none" stroke="#555555" stroke-width="3.6"/>
<path d="M640.1 751L689.3 736.8L738.3 743.5" stroke="#555555" stroke-width="3.5" fill="none" stroke-linejoin="round"/>
<rect x="628.15" y="739.05" width="23.90" height="23.90" fill="#fff" stroke="#555555" stroke-width="3.4" stroke-linejoin="round"/>
<rect x="677.35" y="724.85" width="23.90" height="23.90" fill="#fff" stroke="#555555" stroke-width="3.4" stroke-linejoin="round"/>
<rect x="726.35" y="731.55" width="23.90" height="23.90" fill="#fff" stroke="#555555" stroke-width="3.4" stroke-linejoin="round"/>
<path d="M677.3 723.6H701.3" stroke="#555555" stroke-width="4.5"/>
<path d="M726.3 730.6H750.3" stroke="#555555" stroke-width="4.5"/>
<path d="M640.1 929.4L689.3 929.4L738.3 908.2" stroke="#000" stroke-width="2" fill="none" stroke-linejoin="round"/>
<path d="M677.0999999999999 908.2H701.5" stroke="#000" stroke-width="2" stroke-linecap="round" fill="none"/>
<path d="M689.3 908.2V920" stroke="#000" stroke-width="2" fill="none"/>
<path d="M726.0999999999999 878.4H750.5" stroke="#000" stroke-width="2" stroke-linecap="round" fill="none"/>
<path d="M738.3 878.4V900" stroke="#000" stroke-width="2" fill="none"/>
<circle cx="640.1" cy="929.4" r="12.3" fill="#000"/>
<circle cx="689.3" cy="929.4" r="12.3" fill="#000"/>
<circle cx="738.3" cy="908.2" r="12.3" fill="#000"/>
<path d="M640.1 965.2L689.3 929.4L738.3 922.3" stroke="#555555" stroke-width="1.8" fill="none" stroke-linejoin="round"/>
<rect x="626.35" y="951.45" width="27.5" height="27.5" rx="1.5" fill="#5a5a5a"/>
<rect x="675.55" y="915.65" width="27.5" height="27.5" rx="1.5" fill="#5a5a5a"/>
<rect x="724.55" y="908.55" width="27.5" height="27.5" rx="1.5" fill="#5a5a5a"/>
<text x="758" y="922.3" font-size="18.3" font-weight="bold">+++</text>
<path d="M1562.5 721.6L1660.5 721.6" stroke="#555555" stroke-width="1.7" fill="none" stroke-linejoin="round"/>
<circle cx="1562.5" cy="721.6" r="11.9" fill="none" stroke="#555555" stroke-width="3.6"/>
<circle cx="1611.6" cy="721.6" r="11.9" fill="none" stroke="#555555" stroke-width="3.6"/>
<circle cx="1660.5" cy="721.6" r="11.9" fill="none" stroke="#555555" stroke-width="3.6"/>
<path d="M1562.5 742.9L1611.6 728.9" stroke="#555555" stroke-width="1.7" fill="none" stroke-linejoin="round"/>
<path d="M1611.6 728.9L1660.5 743" stroke="#555555" stroke-width="3" fill="none" stroke-linejoin="round"/>
<rect x="1550.55" y="730.95" width="23.90" height="23.90" fill="#fff" stroke="#555555" stroke-width="3.4" stroke-linejoin="round"/>
<rect x="1599.65" y="716.95" width="23.90" height="23.90" fill="#fff" stroke="#555555" stroke-width="3.4" stroke-linejoin="round"/>
<rect x="1648.55" y="731.05" width="23.90" height="23.90" fill="#fff" stroke="#555555" stroke-width="3.4" stroke-linejoin="round"/>
<path d="M1562.5 921.8L1611.6 921.8L1660.5 921.5" stroke="#000" stroke-width="2" fill="none" stroke-linejoin="round"/>
<path d="M1599.3999999999999 901.6H1623.8" stroke="#000" stroke-width="2" stroke-linecap="round" fill="none"/>
<path d="M1611.6 901.6V915" stroke="#000" stroke-width="2" fill="none"/>
<path d="M1648.3 898H1672.7" stroke="#000" stroke-width="2" stroke-linecap="round" fill="none"/>
<path d="M1660.5 898V905" stroke="#000" stroke-width="2" fill="none"/>
<circle cx="1562.5" cy="921.8" r="12.3" fill="#000"/>
<circle cx="1611.6" cy="921.8" r="12.3" fill="#000"/>
<circle cx="1660.5" cy="921.5" r="12.3" fill="#000"/>
<path d="M1562.5 964.5L1611.6 928.7L1660.5 914" stroke="#555555" stroke-width="1.8" fill="none" stroke-linejoin="round"/>
<rect x="1548.75" y="950.75" width="27.5" height="27.5" rx="1.5" fill="#5a5a5a"/>
<rect x="1597.85" y="914.95" width="27.5" height="27.5" rx="1.5" fill="#5a5a5a"/>
<rect x="1646.65" y="900.15" width="27.7" height="27.7" rx="1.5" fill="#5a5a5a"/>
<text x="1682.2" y="925.1" font-size="18.3" font-weight="bold">+++</text>
<text x="1562.7" y="1004.4" font-size="20" text-anchor="middle">#</text>
</svg></body></html>
